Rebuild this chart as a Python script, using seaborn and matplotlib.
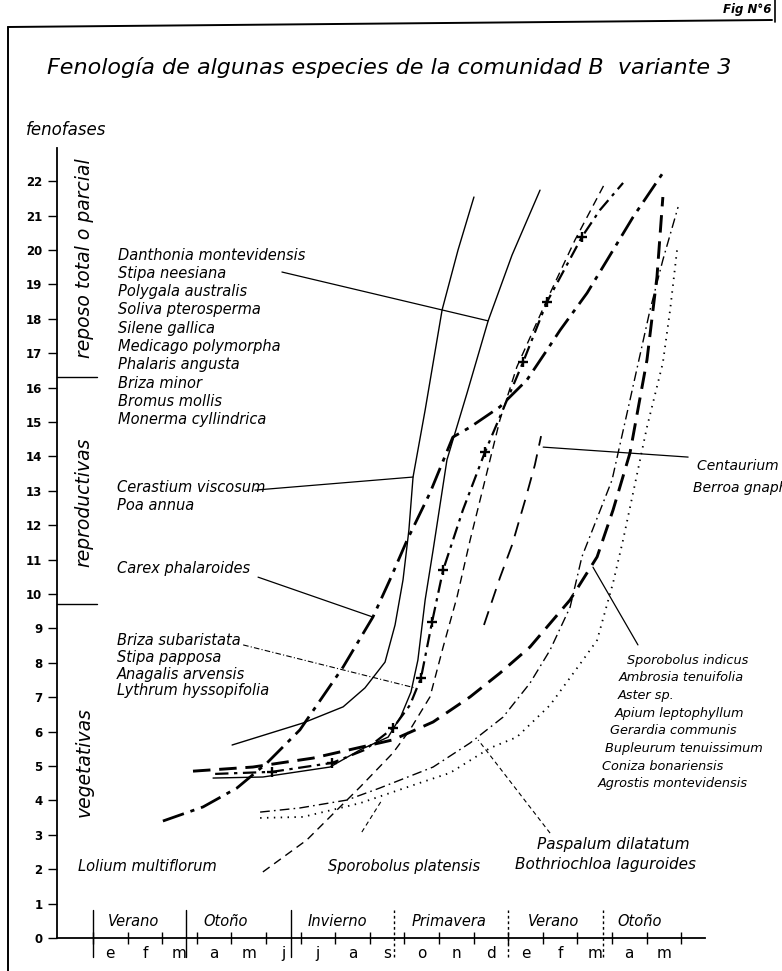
import matplotlib
matplotlib.use("Agg")
import matplotlib.pyplot as plt
from matplotlib.lines import Line2D
import seaborn as sns
import pandas as pd

# ---------------- data (month index from 1 Jan, phenophase) ----------------
meses = ["e", "f", "m", "a", "m", "j", "j", "a", "s", "o", "n", "d", "e", "f", "m", "a", "m"]
estaciones = ["Verano", "Otoño", "Invierno", "Primavera", "Verano", "Otoño"]
limites_estacion = [0.0, 2.69, 5.72, 8.70, 11.99, 14.74]
fases = list(range(0, 23))

# solid thin (Cerastium viscosum, Poa annua)
a_mes = [4.02, 6.07, 7.23, 7.86, 8.44, 8.73, 8.96, 9.13, 9.25, 9.60, 10.09, 10.55, 11.01]
a_fase = [5.61, 6.25, 6.72, 7.27, 8.02, 9.10, 10.41, 11.86, 13.40, 15.35, 18.26, 20.00, 21.54]
# solid thin (Danthonia montevidensis ...)
b_mes = [3.47, 4.91, 6.85, 7.72, 8.53, 8.90, 9.19, 9.39, 9.60, 9.83, 10.23, 10.81, 11.42, 12.11, 12.92]
b_fase = [4.65, 4.68, 4.97, 5.47, 5.84, 6.45, 7.15, 8.08, 9.83, 11.28, 13.90, 15.84, 17.94, 19.85, 21.74]
# heavy dash-dot (Carex phalaroides)
c_mes = [2.02, 3.18, 4.16, 5.03, 5.98, 7.23, 8.09, 8.58, 9.08, 9.74, 10.40, 10.90, 11.76, 12.54,
         13.12, 13.50, 14.28, 14.86, 15.61, 16.47]
c_fase = [3.40, 3.81, 4.36, 5.09, 6.05, 7.88, 9.33, 10.41, 11.57, 12.94, 14.56, 14.85, 15.44, 16.22,
          17.09, 17.67, 18.75, 19.71, 20.96, 22.24]
# dash-dot with crosses (Briza subaristata ...)
d_mes = [3.53, 5.17, 6.91, 7.86, 8.67, 9.16, 9.48, 9.80, 10.12, 10.69, 11.33, 12.43, 13.12, 14.13, 14.65, 15.32]
d_fase = [4.77, 4.83, 5.09, 5.47, 6.10, 6.77, 7.56, 9.19, 10.70, 12.44, 14.13, 16.74, 18.49, 20.38, 21.16, 21.95]
d_cruz_mes = [5.17, 6.91, 8.67, 9.48, 9.80, 10.12, 11.33, 12.43, 13.12, 14.13]
d_cruz_fase = [4.83, 5.09, 6.10, 7.56, 9.19, 10.70, 14.13, 16.74, 18.49, 20.38]
# thin dashed (Sporobolus platensis)
e_mes = [4.91, 6.18, 7.34, 7.72, 8.67, 9.16, 9.74, 10.12, 10.52, 10.90, 11.33, 11.76, 12.25, 13.12, 13.93, 14.80]
e_fase = [1.92, 2.85, 4.01, 4.39, 5.38, 6.05, 7.01, 8.46, 9.91, 11.57, 13.31, 15.06, 16.60, 18.55, 20.29, 21.95]
# heavy long dash (Lolium multiflorum)
f_mes = [2.89, 4.62, 6.36, 8.67, 9.83, 10.90, 11.76, 12.63, 13.79, 14.57, 15.03, 15.52, 16.01, 16.30, 16.47]
f_fase = [4.85, 4.97, 5.23, 5.76, 6.28, 7.01, 7.70, 8.46, 9.83, 11.08, 12.44, 14.10, 16.80, 19.22, 21.54]
# thin dash-dot (Sporobolus indicus ...)
h_mes = [4.83, 5.98, 7.34, 8.29, 9.83, 10.90, 11.85, 12.63, 13.21, 13.79, 14.13, 15.00, 15.52, 16.10, 16.47, 16.91]
h_fase = [3.66, 3.78, 4.01, 4.36, 4.97, 5.67, 6.42, 7.41, 8.37, 9.62, 11.08, 13.31, 15.64, 18.26, 19.71, 21.25]
# dotted (Paspalum dilatatum, Bothriochloa laguroides)
i_mes = [4.83, 6.07, 7.72, 9.45, 10.32, 11.47, 12.25, 13.21, 14.16, 14.57, 15.03, 15.32, 15.61, 16.01,
         16.47, 16.68, 16.88]
i_fase = [3.49, 3.52, 3.92, 4.51, 4.80, 5.52, 5.84, 6.77, 8.08, 8.66, 10.32, 11.57, 12.94, 14.85,
          16.72, 18.26, 20.00]
# long dash (Centaurium pulchellum, Berroa gnaphalioides)
k_mes = [11.30, 11.76, 12.11, 12.49, 12.77, 12.95]
k_fase = [9.10, 10.47, 11.42, 12.73, 13.75, 14.59]

# leader lines (start -> end on curve)
guia_danthonia_mes, guia_danthonia_fase = [5.46, 11.42], [19.36, 17.94]
guia_cerastium_mes, guia_cerastium_fase = [4.68, 9.25], [13.02, 13.40]
guia_carex_mes, guia_carex_fase = [4.77, 8.09], [10.49, 9.33]
guia_briza_mes, guia_briza_fase = [4.34, 9.31], [8.52, 7.27]
guia_centaurium_mes, guia_centaurium_fase = [13.01, 17.20], [14.27, 13.98]
guia_indicus_mes, guia_indicus_fase = [14.45, 15.75], [10.78, 8.52]
guia_paspalum_mes, guia_paspalum_fase = [13.21, 11.13], [3.05, 5.76]
guia_platensis_mes, guia_platensis_fase = [7.77, 8.35], [3.08, 4.01]

grupo_danthonia = ["Danthonia montevidensis", "Stipa neesiana", "Polygala australis",
                   "Soliva pterosperma", "Silene gallica", "Medicago polymorpha",
                   "Phalaris angusta", "Briza minor", "Bromus mollis", "Monerma cyllindrica"]
grupo_cerastium = ["Cerastium viscosum", "Poa annua"]
grupo_briza = ["Briza subaristata", "Stipa papposa", "Anagalis arvensis", "Lythrum hyssopifolia"]
grupo_indicus = ["Sporobolus indicus", "Ambrosia tenuifolia", "Aster sp.", "Apium leptophyllum",
                 "Gerardia communis", "Bupleurum tenuissimum", "Coniza bonariensis",
                 "Agrostis montevidensis"]
grupo_centaurium = ["Centaurium pulchellum", "Berroa gnaphalioides"]
grupo_paspalum = ["Paspalum dilatatum", "Bothriochloa laguroides"]

# ---------------- figure ----------------
W, H = 782, 971
sns.set_theme(style="white")
plt.rcParams["font.family"] = ["DejaVu Sans"]
fig = plt.figure(figsize=(W / 100, H / 100), dpi=100)
fig.patch.set_facecolor("white")

X0, DX = 93.0, 34.6     # pixel of month 0, pixels per month
Y0, DY = 938.0, 34.4    # pixel of phase 0, pixels per phase

ax = fig.add_axes([0, 0, 1, 1])
ax.set_xlim(-X0 / DX, (W - X0) / DX)
ax.set_ylim((Y0 - H) / DY, Y0 / DY)
ax.patch.set_alpha(0)

K = "black"


def curva(xs, ys, lw, ls):
    df = pd.DataFrame({"mes": xs, "fase": ys})
    sns.lineplot(data=df, x="mes", y="fase", sort=False, estimator=None, ax=ax,
                 color=K, linewidth=lw, linestyle=ls, clip_on=False)


curva(a_mes, a_fase, 1.0, "-")
curva(b_mes, b_fase, 1.0, "-")
curva(c_mes, c_fase, 2.0, (0, (8, 2.5, 1.5, 2.5)))
curva(d_mes, d_fase, 1.6, (0, (6, 2.5, 1.5, 2.5)))
curva(e_mes, e_fase, 1.0, (0, (6, 4)))
curva(f_mes, f_fase, 2.1, (0, (6, 3)))
curva(h_mes, h_fase, 1.0, (0, (7, 3, 1.2, 3)))
curva(i_mes, i_fase, 1.3, (0, (0.8, 3)))
curva(k_mes, k_fase, 1.3, (0, (8, 5)))
sns.scatterplot(x=d_cruz_mes, y=d_cruz_fase, marker="+", s=45, linewidth=1.7, color=K, ax=ax, zorder=5)

curva(guia_danthonia_mes, guia_danthonia_fase, 0.9, "-")
curva(guia_cerastium_mes, guia_cerastium_fase, 0.9, "-")
curva(guia_carex_mes, guia_carex_fase, 0.9, "-")
curva(guia_briza_mes, guia_briza_fase, 0.8, (0, (5, 2, 1, 2)))
curva(guia_centaurium_mes, guia_centaurium_fase, 0.9, "-")
curva(guia_indicus_mes, guia_indicus_fase, 0.9, "-")
curva(guia_paspalum_mes, guia_paspalum_fase, 0.8, (0, (4, 3)))
curva(guia_platensis_mes, guia_platensis_fase, 0.8, (0, (4, 3)))

# ---------------- axes ----------------
x_left = (57 - X0) / DX
x_right = (705 - X0) / DX
y_top = (Y0 - 148) / DY
for s in ["top", "right"]:
    ax.spines[s].set_visible(False)
ax.spines["left"].set_position(("data", x_left))
ax.spines["left"].set_bounds(0, y_top)
ax.spines["bottom"].set_position(("data", 0))
ax.spines["bottom"].set_bounds(x_left, x_right)
for s in ["left", "bottom"]:
    ax.spines[s].set_color(K)
    ax.spines[s].set_linewidth(1.3)

ax.set_yticks(fases)
ax.set_yticklabels([str(v) for v in fases])
ax.tick_params(axis="y", direction="out", length=6.5, width=1.0, pad=4, labelsize=8.5,
               colors=K, left=True)
for lab in ax.get_yticklabels():
    lab.set_fontweight("bold")

ax.set_xticks(range(len(meses) + 1))
ax.set_xticklabels([])
ax.set_xticks([m + 0.5 for m in range(len(meses))], minor=True)
ax.set_xticklabels(meses, minor=True, fontsize=11)
ax.tick_params(axis="x", which="major", direction="inout", length=8, width=1.0, colors=K, bottom=True)
ax.tick_params(axis="x", which="minor", length=0, pad=6, colors=K, bottom=True)
ax.set_xlabel("")
ax.set_ylabel("")
ax.grid(False)

# season dividers
for j, xb in enumerate(limites_estacion):
    ls = "-" if j < 3 else (0, (2, 2))
    ax.plot([xb, xb], [-0.55, 0.8], color=K, lw=1.0, ls=ls, clip_on=False)

# phase separators
for yv in [16.3, 9.7]:
    ax.plot([x_left, (97 - X0) / DX], [yv, yv], color=K, lw=1.0, clip_on=False)


def txt(x, y, s, size=10, **kw):
    kw.setdefault("ha", "left")
    kw.setdefault("va", "center")
    fig.text(x / W, 1 - y / H, s, fontsize=size, style="italic", color=K, **kw)


# season labels
est_x = [134, 226, 337, 449, 554, 640]
for sx, s in zip(est_x, estaciones):
    txt(sx, 922, s, 10.5, ha="center")

# frame and titles
fig.add_artist(Line2D([8 / W, 8 / W], [0, 1 - 27 / H], transform=fig.transFigure, color=K, lw=1.4))
fig.add_artist(Line2D([8 / W, 772 / W], [1 - 27 / H, 1 - 20 / H], transform=fig.transFigure, color=K, lw=1.4))
fig.add_artist(Line2D([775 / W, 775 / W], [1 - 22 / H, 1.0], transform=fig.transFigure, color=K, lw=1.2))
txt(771, 10, "Fig N°6", 8.5, weight="bold", ha="right")
txt(47, 67, "Fenología de algunas especies de la comunidad B  variante 3", 16)
txt(26, 130, "fenofases", 12)

txt(84, 258, "reposo total o parcial", 13.5, rotation=90, ha="center")
txt(84, 502, "reproductivas", 13.5, rotation=90, ha="center")
txt(84, 762, "vegetativas", 13.5, rotation=90, ha="center")

for n, s in enumerate(grupo_danthonia):
    txt(118, 255 + 18.3 * n, s, 10.5)
for n, s in enumerate(grupo_cerastium):
    txt(117, 488 + 17 * n, s, 10.5)
txt(117, 568, "Carex phalaroides", 10.5)
for n, s in enumerate(grupo_briza):
    txt(117, 640 + 17 * n, s, 10.5)

ind_x = [627, 619, 618, 615, 610, 605, 602, 598]
for n, s in enumerate(grupo_indicus):
    txt(ind_x[n], 660 + 17.7 * n, s, 9.3)
for n, s in enumerate(grupo_centaurium):
    txt(697 - 4 * n, 466 + 22 * n, s, 10)

txt(78, 866, "Lolium multiflorum", 10.5)
txt(328, 866, "Sporobolus platensis", 10.5)
txt(537, 845, grupo_paspalum[0], 11)
txt(515, 865, grupo_paspalum[1], 11)

fig.savefig("out.png", dpi=100, facecolor="white")
